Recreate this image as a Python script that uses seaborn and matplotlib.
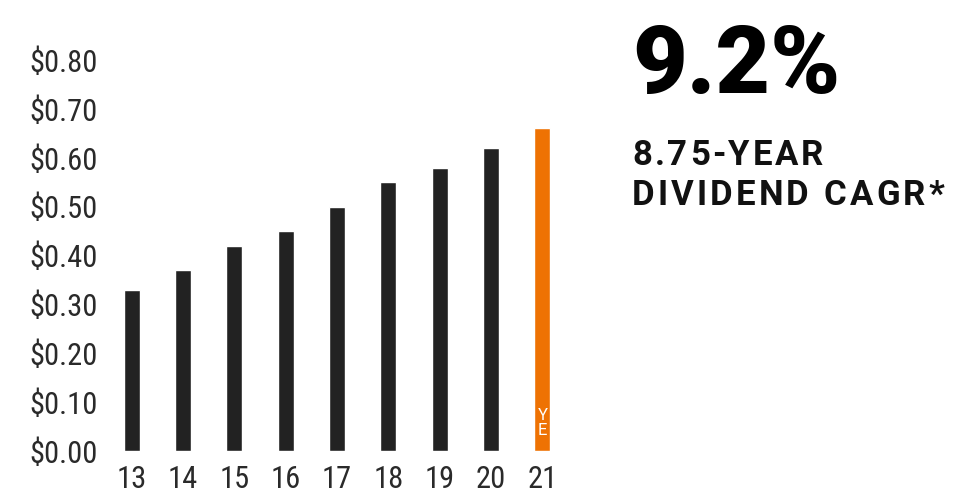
import matplotlib
matplotlib.use("Agg")
import matplotlib.pyplot as plt
import seaborn as sns
import pandas as pd

years = ["13", "14", "15", "16", "17", "18", "19", "20", "21"]
dividends = [0.33, 0.37, 0.42, 0.45, 0.50, 0.55, 0.58, 0.62, 0.66]
yticks = [0.0, 0.1, 0.2, 0.3, 0.4, 0.5, 0.6, 0.7, 0.8]
ytick_labels = ["$0.00", "$0.10", "$0.20", "$0.30", "$0.40", "$0.50", "$0.60", "$0.70", "$0.80"]
headline = "9.2%"
sub1 = "8.75-YEAR"
sub2 = "DIVIDEND CAGR*"

DARK = "#222222"
ORANGE = "#EE7203"
colors = [DARK] * (len(years) - 1) + [ORANGE]

sns.set_theme(style="white")
plt.rcParams["font.family"] = ["Roboto Condensed", "Liberation Sans Narrow", "Roboto", "DejaVu Sans"]

df = pd.DataFrame({"year": years, "div": dividends})

fig = plt.figure(figsize=(9.54, 4.98), dpi=100)
ax = fig.add_axes([106 / 954, 47 / 498, 462 / 954, 391 / 498])
sns.barplot(data=df, x="year", y="div", hue="year", palette=colors,
            legend=False, width=0.31, saturation=1, ax=ax)

ax.set_ylim(0, 0.8)
ax.set_xlim(-0.5, len(years) - 0.5)
ax.set_yticks(yticks)
ax.set_yticklabels(ytick_labels)
ax.set_xlabel("")
ax.set_ylabel("")
for s in ax.spines.values():
    s.set_visible(False)
ax.tick_params(axis="both", length=0, labelsize=22, colors="#2a2a2a")
ax.tick_params(axis="y", pad=6)
ax.tick_params(axis="x", pad=10)

# "YE" inside the last bar
ax.text(len(years) - 1, 0.072, "Y", color="white", ha="center", va="center",
        fontsize=12, family=["Roboto", "DejaVu Sans"], fontweight="normal")
ax.text(len(years) - 1, 0.041, "E", color="white", ha="center", va="center",
        fontsize=12, family=["Roboto", "DejaVu Sans"], fontweight="normal")

fig.text(632 / 954, 1 - 93 / 498, headline, ha="left", va="baseline",
         fontsize=68, fontweight="black", family=["Roboto", "DejaVu Sans"], color="#000000")

renderer = fig.canvas.get_renderer()


def tracked_text(s, x_px, base_px, size, track_px):
    x = x_px
    for ch in s:
        t = fig.text(x / 954, 1 - base_px / 498, ch, ha="left", va="baseline",
                     fontsize=size, fontweight="bold",
                     family=["Roboto", "DejaVu Sans"], color="#111111")
        if ch == " ":
            w = size * 100 / 72 * 0.25
        else:
            w = t.get_window_extent(renderer).width
        x += w + track_px


tracked_text(sub1, 632, 165, 25, 2.6)
tracked_text(sub2, 632, 205, 25, 3.1)

fig.savefig("out.png", dpi=100)
